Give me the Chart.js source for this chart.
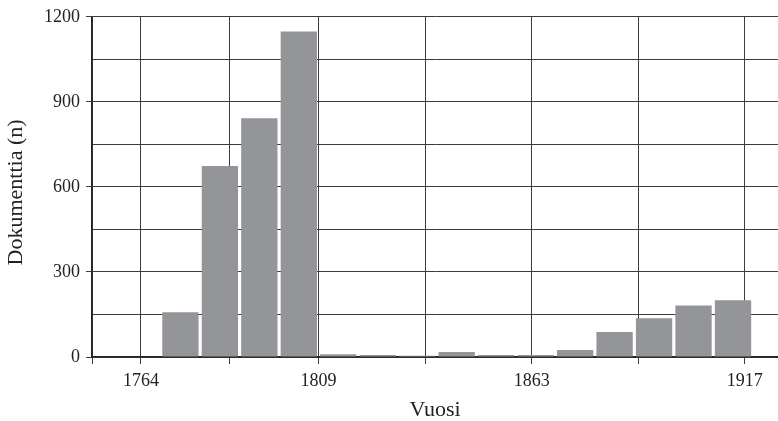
<!DOCTYPE html>
<html>
<head>
<meta charset="utf-8">
<script src="https://cdn.jsdelivr.net/npm/chart.js@4"></script>
<style>
  body { margin: 0; background: #ffffff; }
  #myChart { display: block; }
</style>
</head>
<body>
<canvas id="myChart" width="778" height="421"></canvas>
<script>
// Decades (start year) and document counts per decade
const decades = [1770, 1780, 1790, 1800, 1810, 1820, 1830, 1840, 1850, 1860, 1870, 1880, 1890, 1900, 1910];
const documents = [158, 674, 842, 1148, 10, 7, 4, 18, 7, 7, 25, 88, 137, 182, 200];

// Year ticks on the x axis (grid lines) and those that get a label
const xGridYears = [1764, 1786.5, 1809, 1836, 1863, 1890, 1917];
const xLabelYears = [1764, 1809, 1863, 1917];
const xMin = 1751.6;
const xMax = 1925.4;

const barColor = "#939598";
const gridColor = "#3c3c3c";
const fontFamily = "'Liberation Serif', 'DejaVu Serif', serif";

// bar sits in the middle of its decade
const points = decades.map((d, i) => ({ x: d + 4, y: documents[i] }));

new Chart("myChart", {
  type: "bar",
  data: {
    datasets: [
      {
        data: points,
        backgroundColor: barColor,
        borderWidth: 0,
        barPercentage: 0.92,
        categoryPercentage: 1.0,
      },
    ],
  },
  options: {
    responsive: false,
    animation: false,
    layout: { padding: { top: 14, right: 0, bottom: 0, left: 0 } },
    plugins: {
      legend: { display: false },
      tooltip: { enabled: false },
    },
    scales: {
      x: {
        type: "linear",
        min: xMin,
        max: xMax,
        offset: false,
        grid: {
          offset: false,
          color: gridColor,
          lineWidth: 1,
          tickLength: 7,
        },
        border: { color: "#222", width: 1.5 },
        afterBuildTicks: (scale) => {
          scale.ticks = [xMin].concat(xGridYears).map((v) => ({ value: v }));
        },
        afterFit: (scale) => {
          scale.height = 64;
        },
        ticks: {
          autoSkip: false,
          maxRotation: 0,
          padding: 6,
          color: "#222",
          font: { family: fontFamily, size: 18 },
          callback: (value) => (xLabelYears.includes(value) ? String(value) : ""),
        },
        title: {
          display: true,
          text: "Vuosi",
          color: "#222",
          font: { family: fontFamily, size: 22, lineHeight: 1.0 },
          padding: { top: 0, bottom: 0 },
        },
      },
      y: {
        min: 0,
        max: 1200,
        grid: {
          color: gridColor,
          lineWidth: 1,
          tickLength: 6,
          tickColor: (ctx) =>
            ctx.tick && ctx.tick.value % 300 === 0 ? gridColor : "rgba(0,0,0,0)",
        },
        border: { color: "#222", width: 1.5 },
        afterFit: (scale) => {
          scale.width = 92;
        },
        ticks: {
          stepSize: 150,
          padding: 6,
          color: "#222",
          font: { family: fontFamily, size: 18 },
          callback: (value) => (value % 300 === 0 ? String(value) : ""),
        },
        title: {
          display: true,
          text: "Dokumenttia (n)\u00a0\u00a0",
          color: "#222",
          font: { family: fontFamily, size: 22, lineHeight: 1.2 },
          padding: { top: 3, bottom: 0 },
        },
      },
    },
  },
});
</script>
</body>
</html>
